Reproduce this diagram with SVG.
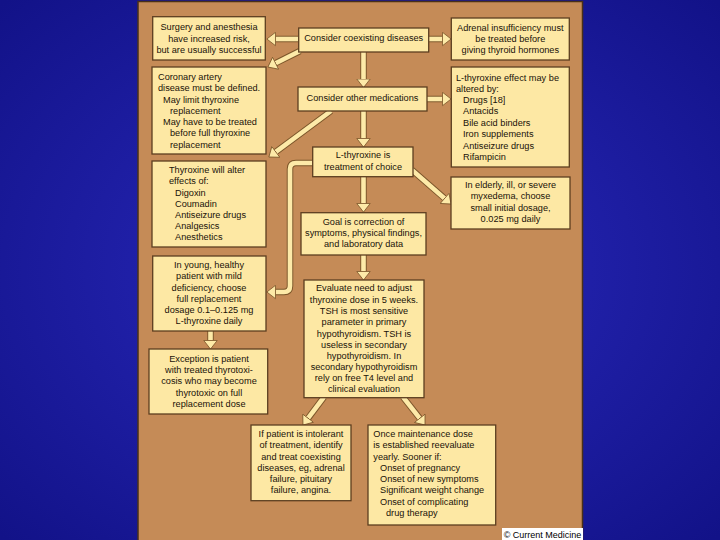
<svg xmlns="http://www.w3.org/2000/svg" width="720" height="540" viewBox="0 0 720 540">
<defs>
<radialGradient id="bg" cx="50%" cy="50%" r="70%">
<stop offset="0" stop-color="#2a2abf"/>
<stop offset="1" stop-color="#121288"/>
</radialGradient>
<marker id="ah" markerUnits="userSpaceOnUse" markerWidth="10" markerHeight="15" viewBox="0 0 10 15" refX="0.4" refY="7.5" orient="auto">
<path d="M0.4,0.8 L9,7.5 L0.4,14.2 Z" fill="#fdeaa8" stroke="#7a5428" stroke-width="0.8" stroke-linejoin="miter"/>
</marker>
<style>
.box{fill:#fde8a4;stroke:#5c3e20;stroke-width:1.3}
.t{font-family:"Liberation Sans",Arial,sans-serif;font-size:9.2px;fill:#1a1208}
.c{text-anchor:middle}
.o{fill:none;stroke:#7a5428;stroke-width:6.5;stroke-linejoin:round}
.i{fill:none;stroke:#fdeaa8;stroke-width:4.6;stroke-linejoin:round;marker-end:url(#ah)}
</style>
</defs>
<rect x="0" y="0" width="720" height="540" fill="url(#bg)"/>
<rect x="138" y="1.5" width="444.5" height="540" fill="#c58b57" stroke="#4a3018" stroke-width="1.5"/>

<g id="connectors">
<path class="o" d="M298,39 H275.5"/><path class="i" d="M298,39 H275.5"/>
<path class="o" d="M429,39 H442.5"/><path class="i" d="M429,39 H442.5"/>
<path class="o" d="M300,51 L275.6,63.2"/><path class="i" d="M300,51 L275.6,63.2"/>
<path class="o" d="M363.5,52 V79"/><path class="i" d="M363.5,52 V79"/>
<path class="o" d="M427,99 H442.5"/><path class="i" d="M427,99 H442.5"/>
<path class="o" d="M331,111 L275.8,151.9"/><path class="i" d="M331,111 L275.8,151.9"/>
<path class="o" d="M363.5,111 V138.5"/><path class="i" d="M363.5,111 V138.5"/>
<path class="o" d="M314,163 H296 Q290,163 290,169 V286 Q290,292 284,292 H275.5"/><path class="i" d="M314,163 H296 Q290,163 290,169 V286 Q290,292 284,292 H275.5"/>
<path class="o" d="M412,170 L444.6,198.4"/><path class="i" d="M412,170 L444.6,198.4"/>
<path class="o" d="M363.5,176.7 V203.5"/><path class="i" d="M363.5,176.7 V203.5"/>
<path class="o" d="M363.5,255 V271.5"/><path class="i" d="M363.5,255 V271.5"/>
<path class="o" d="M210.5,331 V340.5"/><path class="i" d="M210.5,331 V340.5"/>
<path class="o" d="M324,397 L308.1,418.2"/><path class="i" d="M324,397 L308.1,418.2"/>
<path class="o" d="M403,397 L419.75,418.3"/><path class="i" d="M403,397 L419.75,418.3"/>
</g>

<g id="surgery">
<rect class="box" x="152.7" y="16.7" width="112.6" height="43.3"/>
<text class="t c" x="209" y="30">Surgery and anesthesia</text>
<text class="t c" x="209" y="41.5">have increased risk,</text>
<text class="t c" x="209" y="52.5">but are usually successful</text>
</g>
<g id="coexisting">
<rect class="box" x="298.7" y="28" width="130" height="24"/>
<text class="t c" x="363.7" y="41.3">Consider coexisting diseases</text>
</g>
<g id="adrenal">
<rect class="box" x="451.3" y="18" width="118" height="42"/>
<text class="t c" x="510.3" y="30.5">Adrenal insufficiency must</text>
<text class="t c" x="510.3" y="41.5">be treated before</text>
<text class="t c" x="510.3" y="52.5">giving thyroid hormones</text>
</g>
<g id="coronary">
<rect class="box" x="152" y="67" width="114" height="87"/>
<text class="t" x="158" y="79.5">Coronary artery</text>
<text class="t" x="158" y="91">disease must be defined.</text>
<text class="t" x="163" y="102.5">May limit thyroxine</text>
<text class="t" x="170" y="114">replacement</text>
<text class="t" x="163" y="125">May have to be treated</text>
<text class="t" x="170" y="136">before full thyroxine</text>
<text class="t" x="170" y="147.5">replacement</text>
</g>
<g id="othermeds">
<rect class="box" x="298" y="87" width="129" height="24"/>
<text class="t c" x="362.5" y="100.5">Consider other medications</text>
</g>
<g id="altered">
<rect class="box" x="451.3" y="67" width="118" height="100"/>
<text class="t" x="456" y="80.5">L-thyroxine effect may be</text>
<text class="t" x="456" y="92">altered by:</text>
<text class="t" x="463" y="102.5">Drugs [18]</text>
<text class="t" x="463" y="114">Antacids</text>
<text class="t" x="463" y="125.5">Bile acid binders</text>
<text class="t" x="463" y="137">Iron supplements</text>
<text class="t" x="463" y="148.8">Antiseizure drugs</text>
<text class="t" x="463" y="160">Rifampicin</text>
</g>
<g id="choice">
<rect class="box" x="312.7" y="147" width="100.3" height="29.7"/>
<text class="t c" x="363" y="158.3">L-thyroxine is</text>
<text class="t c" x="363" y="170">treatment of choice</text>
</g>
<g id="alter">
<rect class="box" x="152" y="161" width="114" height="86"/>
<text class="t" x="169" y="173.2">Thyroxine will alter</text>
<text class="t" x="169" y="184.3">effects of:</text>
<text class="t" x="175" y="195.5">Digoxin</text>
<text class="t" x="175" y="206.5">Coumadin</text>
<text class="t" x="175" y="217.5">Antiseizure drugs</text>
<text class="t" x="175" y="229">Analgesics</text>
<text class="t" x="175" y="240">Anesthetics</text>
</g>
<g id="elderly">
<rect class="box" x="451" y="177" width="119" height="52"/>
<text class="t c" x="510.5" y="187.5">In elderly, ill, or severe</text>
<text class="t c" x="510.5" y="199">myxedema, choose</text>
<text class="t c" x="510.5" y="210.5">small initial dosage,</text>
<text class="t c" x="510.5" y="222">0.025 mg daily</text>
</g>
<g id="goal">
<rect class="box" x="301" y="212.7" width="125" height="42.3"/>
<text class="t c" x="363.5" y="225">Goal is correction of</text>
<text class="t c" x="363.5" y="236">symptoms, physical findings,</text>
<text class="t c" x="363.5" y="247.3">and laboratory data</text>
</g>
<g id="young">
<rect class="box" x="152.7" y="256" width="113.3" height="75"/>
<text class="t c" x="209" y="268.2">In young, healthy</text>
<text class="t c" x="209" y="279.2">patient with mild</text>
<text class="t c" x="209" y="290.5">deficiency, choose</text>
<text class="t c" x="209" y="301.5">full replacement</text>
<text class="t c" x="209" y="313">dosage 0.1–0.125 mg</text>
<text class="t c" x="209" y="324.2">L-thyroxine daily</text>
</g>
<g id="exception">
<rect class="box" x="149" y="349" width="118.7" height="65"/>
<text class="t c" x="209" y="362">Exception is patient</text>
<text class="t c" x="209" y="373.2">with treated thyrotoxi-</text>
<text class="t c" x="209" y="384.3">cosis who may become</text>
<text class="t c" x="209" y="395.5">thyrotoxic on full</text>
<text class="t c" x="209" y="407">replacement dose</text>
</g>
<g id="evaluate">
<rect class="box" x="304" y="280" width="120" height="117.7"/>
<text class="t c" x="364" y="290.5">Evaluate need to adjust</text>
<text class="t c" x="364" y="302.5">thyroxine dose in 5 weeks.</text>
<text class="t c" x="364" y="314">TSH is most sensitive</text>
<text class="t c" x="364" y="325">parameter in primary</text>
<text class="t c" x="364" y="336.5">hypothyroidism. TSH is</text>
<text class="t c" x="364" y="347.5">useless in secondary</text>
<text class="t c" x="364" y="359">hypothyroidism. In</text>
<text class="t c" x="364" y="370">secondary hypothyroidism</text>
<text class="t c" x="364" y="381">rely on free T4 level and</text>
<text class="t c" x="364" y="392.2">clinical evaluation</text>
</g>
<g id="intolerant">
<rect class="box" x="251" y="425" width="100" height="75.7"/>
<text class="t c" x="301" y="437.2">If patient is intolerant</text>
<text class="t c" x="301" y="448.2">of treatment, identify</text>
<text class="t c" x="301" y="460">and treat coexisting</text>
<text class="t c" x="301" y="471">diseases, eg, adrenal</text>
<text class="t c" x="301" y="482.2">failure, pituitary</text>
<text class="t c" x="301" y="493.2">failure, angina.</text>
</g>
<g id="maintenance">
<rect class="box" x="368" y="425" width="127.7" height="100"/>
<text class="t" x="373.3" y="437.2">Once maintenance dose</text>
<text class="t" x="373.3" y="448.2">is established reevaluate</text>
<text class="t" x="373.3" y="460">yearly. Sooner if:</text>
<text class="t" x="380" y="471">Onset of pregnancy</text>
<text class="t" x="380" y="482.2">Onset of new symptoms</text>
<text class="t" x="380" y="493.2">Significant weight change</text>
<text class="t" x="380" y="505">Onset of complicating</text>
<text class="t" x="386" y="515.5">drug therapy</text>
</g>
<g id="credit">
<rect x="502" y="528" width="81" height="12" fill="#ffffff"/>
<text x="542.5" y="537.8" text-anchor="middle" font-family="'Liberation Sans',Arial,sans-serif" font-size="9" fill="#000000">© Current Medicine</text>
</g>
</svg>
